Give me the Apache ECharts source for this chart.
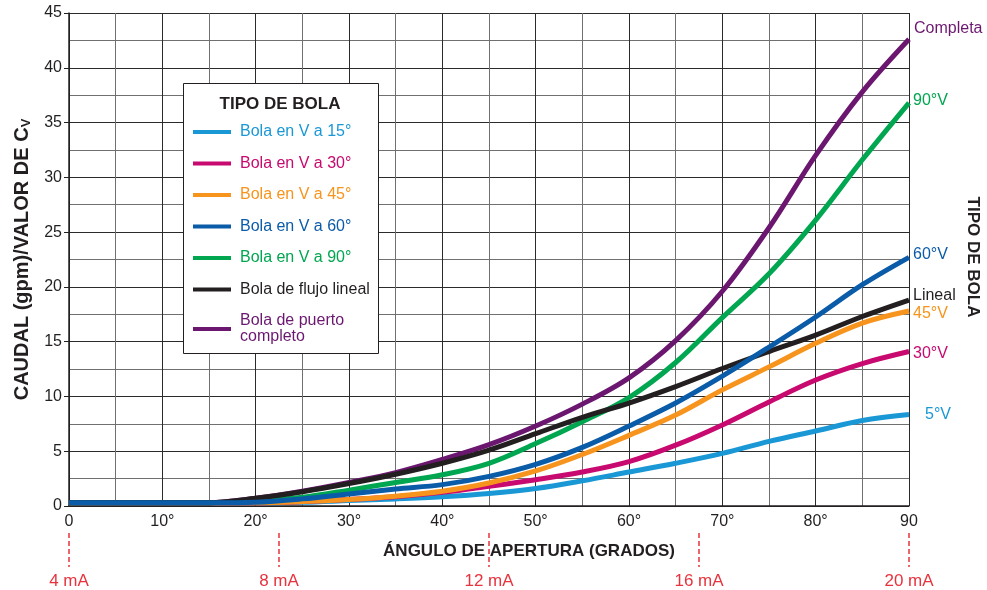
<!DOCTYPE html>
<html>
<head>
<meta charset="utf-8">
<script src="https://cdn.jsdelivr.net/npm/echarts@6/dist/echarts.min.js"></script>
<style>html,body{margin:0;padding:0;background:#fff;}#c{width:987px;height:590px;}</style>
</head>
<body>
<div id="c"></div>
<script>
var angles = [0,5,10,15,20,25,30,35,40,45,50,55,60,65,70,75,80,85,90];
var v15 = [0.3,0.3,0.3,0.3,0.3,0.35,0.5,0.65,0.85,1.15,1.6,2.3,3.1,3.9,4.8,5.9,6.85,7.8,8.35];
var v30 = [0.3,0.3,0.3,0.3,0.3,0.4,0.6,0.85,1.25,1.8,2.4,3.1,4.05,5.55,7.4,9.5,11.5,13.0,14.1];
var v45 = [0.3,0.3,0.3,0.3,0.3,0.4,0.6,0.9,1.35,2.1,3.2,4.7,6.45,8.3,10.6,12.7,14.85,16.7,17.8];
var v60 = [0.3,0.3,0.3,0.3,0.35,0.65,1.1,1.55,1.95,2.7,3.8,5.35,7.3,9.4,11.85,14.5,17.25,20.2,22.7];
var v90 = [0.3,0.3,0.3,0.3,0.45,0.8,1.45,2.15,2.85,3.9,5.7,7.7,9.9,13.1,17.2,21.2,26.1,31.6,36.8];
var vLineal = [0.3,0.3,0.3,0.3,0.7,1.3,2.05,2.9,3.9,5.1,6.6,8.1,9.4,10.9,12.55,14.1,15.6,17.3,18.8];
var vCompleto = [0.3,0.3,0.3,0.3,0.7,1.35,2.15,3.05,4.25,5.6,7.3,9.3,11.7,15.1,19.6,25.4,32.0,37.8,42.6];

var seriesNames = ['Bola en V a 15°','Bola en V a 30°','Bola en V a 45°','Bola en V a 60°','Bola en V a 90°','Bola de flujo lineal','Bola de puerto\ncompleto'];
var endNames = ['5°V','30°V','45°V','60°V','90°V','Lineal','Completa'];
var seriesValues = [v15, v30, v45, v60, v90, vLineal, vCompleto];
var colors = ['#1a98d5','#c8096f','#f7941d','#0a5ba8','#00a650','#231f20','#6b1770'];
var zOrder = [2,3,4,8,6,7,5];
var endOffsets = [[12,0],[0,2],[0,3],[0,-3],[0,-2],[0,-4],[1,-11]];

var mATicks = ['4 mA','8 mA','12 mA','16 mA','20 mA'];

var series = seriesNames.map(function(n,i){
  return {
    name: n, type: 'line', xAxisIndex: 0, yAxisIndex: 0,
    data: angles.map(function(a,j){ return [a, seriesValues[i][j]]; }),
    smooth: 0.35, showSymbol: false, symbol: 'none',
    z: zOrder[i],
    lineStyle: { color: colors[i], width: 5 },
    itemStyle: { color: colors[i] },
    endLabel: {
      show: true, formatter: endNames[i], color: colors[i],
      fontFamily: 'Liberation Sans, Arial, sans-serif', fontSize: 16,
      distance: 4, offset: endOffsets[i]
    }
  };
});

var chart = echarts.init(document.getElementById('c'), null, {renderer: 'canvas'});
chart.setOption({
  animation: false,
  backgroundColor: '#fff',
  textStyle: { fontFamily: 'Liberation Sans, Arial, sans-serif' },
  grid: { left: 69, right: 78, top: 13, bottom: 84 },
  xAxis: [{
    type: 'value', min: 0, max: 90, interval: 10,
    axisLine: { show: true, lineStyle: { color: '#231f20', width: 1.5 } },
    axisTick: { show: false },
    axisLabel: { color: '#231f20', fontSize: 16, margin: 8,
      formatter: function(v){ return v === 0 ? '0' : (v === 90 ? '90' : v + '°'); } },
    splitLine: { show: true, lineStyle: { color: '#2b2b2b', width: 1 } },
    minorTick: { show: false, splitNumber: 2 },
    minorSplitLine: { show: true, lineStyle: { color: '#707070', width: 1 } },
    name: 'ÁNGULO DE APERTURA (GRADOS)', nameLocation: 'middle', nameGap: 37,
    nameTextStyle: { color: '#231f20', fontSize: 17, fontWeight: 'bold', padding: [0,0,0,80] }
  },{
    type: 'value', min: 0, max: 90, interval: 22.5, position: 'bottom', offset: 27,
    axisLine: { show: false },
    axisTick: { show: true, length: 34, lineStyle: { color: '#e8333d', width: 1.5, type: [5,3] } },
    axisLabel: { color: '#e8333d', fontSize: 17, margin: 40, showMinLabel: true, showMaxLabel: true,
      formatter: function(v){ return mATicks[Math.round(v/22.5)]; } },
    splitLine: { show: false }
  }],
  yAxis: {
    type: 'value', min: 0, max: 45, interval: 5,
    axisLine: { show: true, lineStyle: { color: '#231f20', width: 1.5 } },
    axisTick: { show: true, length: 5, lineStyle: { color: '#231f20' } },
    axisLabel: { color: '#231f20', fontSize: 16, margin: 7 },
    splitLine: { show: true, lineStyle: { color: '#2b2b2b', width: 1 } },
    minorTick: { show: false, splitNumber: 2 },
    minorSplitLine: { show: true, lineStyle: { color: '#707070', width: 1 } },
    name: '{a|CAUDAL (gpm)/VALOR DE C}{s|V}', nameLocation: 'middle', nameGap: 36,
    nameTextStyle: { rich: {
      a: { fontSize: 20, fontWeight: 'bold', color: '#231f20' },
      s: { fontSize: 13, fontWeight: 'bold', color: '#231f20', padding: [8,0,0,0] }
    } }
  },
  legend: {
    orient: 'vertical', left: 188, top: 119, z: 110,
    icon: 'rect', itemWidth: 38, itemHeight: 4, itemGap: 15.5,
    textStyle: { fontSize: 16, lineHeight: 16, padding: [0,0,0,4] },
    data: seriesNames.map(function(n,i){ return { name: n, textStyle: { color: colors[i] } }; }),
    selectedMode: false
  },
  graphic: [
    { type: 'rect', z: 100, shape: { x: 183.5, y: 83.5, width: 195, height: 270 },
      style: { fill: '#fff', stroke: '#231f20', lineWidth: 1 } },
    { type: 'text', z: 120, x: 280, y: 104,
      style: { text: 'TIPO DE BOLA', fill: '#231f20', font: 'bold 17px Liberation Sans, Arial, sans-serif', align: 'center', verticalAlign: 'middle' } },
    { type: 'text', z: 120, x: 973, y: 257, rotation: -Math.PI/2,
      style: { text: 'TIPO DE BOLA', fill: '#231f20', font: 'bold 17px Liberation Sans, Arial, sans-serif', align: 'center', verticalAlign: 'middle' } }
  ],
  series: series
});
</script>
</body>
</html>
